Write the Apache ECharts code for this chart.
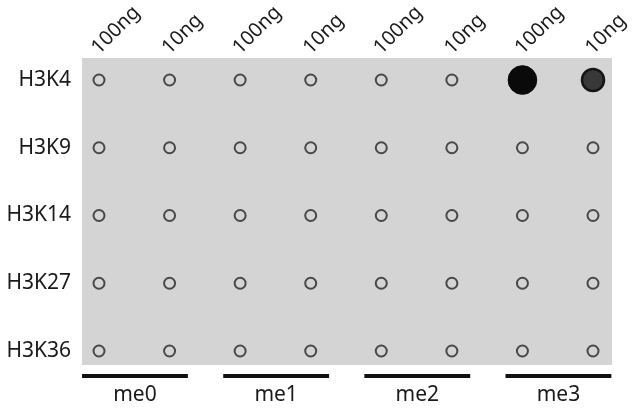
<!DOCTYPE html>
<html>
<head>
    <meta charset="UTF-8">
    <title>Dot blot</title>
    <script src="https://cdn.jsdelivr.net/npm/echarts/dist/echarts.min.js"></script>
    <style>
        html, body { margin: 0; padding: 0; background: #fff; }
        #chart { width: 640px; height: 409px; }
    </style>
</head>
<body>
    <div id="chart"></div>

    <script>
        // 数据
        const rows = ['H3K4', 'H3K9', 'H3K14', 'H3K27', 'H3K36'];
        const lanes = ['100ng', '10ng', '100ng', '10ng', '100ng', '10ng', '100ng', '10ng'];
        const groups = ['me0', 'me1', 'me2', 'me3'];
        // 信号强度 (0 = 无信号，只有点样圈)
        const signal = [
            [0, 0, 0, 0, 0, 0, 100, 60],
            [0, 0, 0, 0, 0, 0, 0, 0],
            [0, 0, 0, 0, 0, 0, 0, 0],
            [0, 0, 0, 0, 0, 0, 0, 0],
            [0, 0, 0, 0, 0, 0, 0, 0]
        ];

        const chart = echarts.init(document.getElementById('chart'));
        const font = 'Noto Sans';
        const ink = '#1a1a1a';

        // 有信号画实心点，无信号画空心圈
        function spotStyle(v) {
            if (v <= 0) return { color: 'rgba(0,0,0,0)', borderColor: '#484848', borderWidth: 2, opacity: 1 };
            if (v >= 80) return { color: '#0a0a0a', borderColor: '#0a0a0a', borderWidth: 1, opacity: 1 };
            return { color: '#383838', borderColor: '#151515', borderWidth: 2.5, opacity: 1 };
        }

        const dots = [];
        signal.forEach((r, ri) => r.forEach((v, ci) => dots.push({
            value: [ci, ri, v],
            itemStyle: spotStyle(v)
        })));

        const option = {
            animation: false,
            backgroundColor: '#fff',
            grid: [
                // 膜的灰色背景
                { left: 82, right: 28, top: 58, bottom: 44, show: true, backgroundColor: '#d4d4d4', borderWidth: 0 },
                // 点阵
                { left: 99, right: 47, top: 80, bottom: 58 },
                // 顶部标签
                { left: 95, right: 51, top: 50, height: 10 },
                // 底部分组
                { left: 64.4, right: 11, top: 374, height: 4 }
            ],
            xAxis: [
                { gridIndex: 0, type: 'value', show: false },
                { gridIndex: 1, type: 'category', data: lanes, boundaryGap: false, show: false },
                {
                    gridIndex: 2, type: 'category', data: lanes, boundaryGap: false, position: 'top',
                    axisLine: { show: false }, axisTick: { show: false },
                    axisLabel: { rotate: 45, margin: 4, fontSize: 20, color: ink, fontFamily: font, interval: 0 }
                },
                {
                    gridIndex: 3, type: 'category', data: groups, boundaryGap: true,
                    axisLine: { show: false }, axisTick: { show: false },
                    axisLabel: { margin: 7, fontSize: 21, color: ink, fontFamily: font, interval: 0 }
                }
            ],
            yAxis: [
                { gridIndex: 0, type: 'value', show: false },
                {
                    gridIndex: 1, type: 'category', data: rows, inverse: true, boundaryGap: false,
                    axisLine: { show: false }, axisTick: { show: false }, splitLine: { show: false },
                    axisLabel: { margin: 28, fontSize: 21, color: ink, fontFamily: font }
                },
                { gridIndex: 2, type: 'value', show: false },
                { gridIndex: 3, type: 'value', min: 0, max: 1, show: false }
            ],
            series: [
                {
                    type: 'scatter',
                    xAxisIndex: 1,
                    yAxisIndex: 1,
                    data: dots,
                    symbol: 'circle',
                    symbolSize: d => d[2] > 0 ? 12 + d[2] / 6 : 11
                },
                {
                    type: 'bar',
                    xAxisIndex: 3,
                    yAxisIndex: 3,
                    data: groups.map(() => 1),
                    barWidth: '75%',
                    itemStyle: { color: '#111' }
                }
            ]
        };

        chart.setOption(option);
    </script>
</body>
</html>
